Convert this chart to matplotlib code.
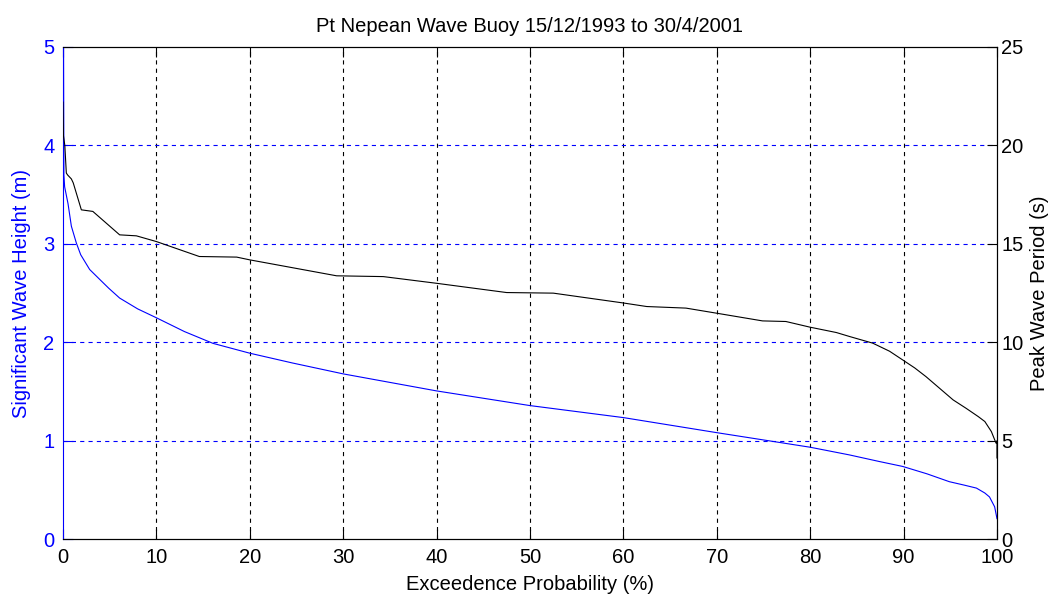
import matplotlib
matplotlib.use("Agg")
import matplotlib.pyplot as plt

plt.rcParams['font.family'] = ['Liberation Sans', 'DejaVu Sans']
plt.rcParams['lines.scale_dashes'] = False

# Exceedence probability (%) and significant wave height (m)
hs_prob = [0, 0.1, 0.18, 0.54, 0.9, 1.43, 1.9, 2.86, 3.93, 4.9, 6.07, 8.0, 10, 13.0,
           16.06, 20, 24.6, 30, 40, 50, 60, 70, 80, 84.2, 87.4, 89.9, 92.5, 94.9, 96.5,
           97.8, 98.7, 99.2, 99.75, 100]
hs_vals = [7.0, 3.7, 3.58, 3.41, 3.18, 3.01, 2.89, 2.74, 2.64, 2.55, 2.45, 2.34, 2.25,
           2.11, 1.99, 1.89, 1.79, 1.68, 1.507, 1.358, 1.236, 1.083, 0.935, 0.857, 0.79,
           0.74, 0.665, 0.585, 0.55, 0.52, 0.47, 0.43, 0.33, 0.21]

# Exceedence probability (%) and peak wave period (s)
tp_prob = [0, 0.05, 0.2, 0.36, 0.5, 0.9, 1.1, 1.97, 3.2, 6.07, 7.86, 10, 14.6, 18.6, 20,
           29.3, 34.3, 40, 47.5, 52.5, 60, 62.5, 66.7, 70, 74.9, 77.4, 80, 82.8, 84.2,
           86.7, 88.5, 89.9, 91.2, 92.4, 93.9, 95.3, 96.7, 98.0, 98.7, 99.4, 99.9, 100, 100]
tp_vals = [22.2, 20.5, 20.0, 18.6, 18.5, 18.3, 18.1, 16.73, 16.65, 15.46, 15.41, 15.12,
           14.36, 14.33, 14.19, 13.38, 13.34, 13.0, 12.53, 12.5, 12.0, 11.82, 11.74, 11.48,
           11.09, 11.06, 10.77, 10.5, 10.3, 9.96, 9.55, 9.11, 8.7, 8.26, 7.65, 7.08, 6.65,
           6.23, 5.98, 5.47, 4.88, 5.0, 4.13]

x_ticks = [0, 10, 20, 30, 40, 50, 60, 70, 80, 90, 100]
hs_ticks = [0, 1, 2, 3, 4, 5]
tp_ticks = [0, 5, 10, 15, 20, 25]

BLUE = (0, 0, 1)
FS = 14.5
dash = (0, (3.0, 3.0))

fig = plt.figure(figsize=(10.51, 5.94), dpi=100)
ax = fig.add_axes([0.0599, 0.0921, 0.8887, 0.8288])
ax2 = ax.twinx()

ax.plot(hs_prob, hs_vals, color=BLUE, lw=0.8)
ax2.plot(tp_prob, tp_vals, color='black', lw=0.8)

ax.set_xlim(0, 100)
ax.set_ylim(0, 5)
ax2.set_ylim(0, 25)
ax.set_xticks(x_ticks)
ax.set_yticks(hs_ticks)
ax2.set_yticks(tp_ticks)

# grid: vertical black dashed, horizontal blue dashed
for xv in x_ticks[1:-1]:
    ax.axvline(xv, color='black', lw=0.8, linestyle=dash, zorder=0.5)
for yv in hs_ticks[1:-1]:
    ax.axhline(yv, color=BLUE, lw=0.8, linestyle=dash, zorder=0.5)

ax.tick_params(axis='x', direction='in', length=7, top=True, colors='black',
               labelsize=FS, pad=6, width=0.8)
ax.tick_params(axis='y', direction='in', length=7, colors=BLUE, labelsize=FS,
               pad=6, width=0.8)
ax2.tick_params(axis='y', direction='in', length=7, colors='black', labelsize=FS,
                pad=3, width=0.8)

for a in (ax, ax2):
    for s in a.spines.values():
        s.set_linewidth(0.8)
ax.spines['left'].set_color(BLUE)
ax2.spines['left'].set_visible(False)

ax.set_xlabel('Exceedence Probability (%)', fontsize=FS, labelpad=6)
ax.set_ylabel('Significant Wave Height (m)', fontsize=FS, color=BLUE, labelpad=9)
ax2.set_ylabel('Peak Wave Period (s)', fontsize=FS, color='black', labelpad=5)
ax.set_title('Pt Nepean Wave Buoy 15/12/1993 to 30/4/2001', fontsize=FS, pad=11)

fig.savefig('out.png', dpi=100)
